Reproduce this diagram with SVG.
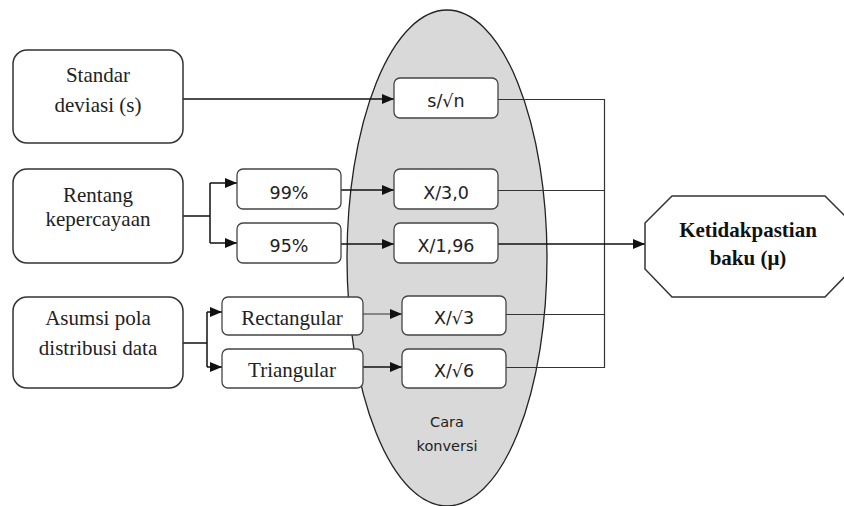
<svg xmlns="http://www.w3.org/2000/svg" width="844" height="506" viewBox="0 0 844 506">
<defs>
<marker id="ah" viewBox="0 0 12 10" refX="12" refY="5" markerWidth="12" markerHeight="10" markerUnits="userSpaceOnUse" orient="auto">
<path d="M0,0 L12,5 L0,10 z" fill="#111"/>
</marker>
</defs>
<style>
.big{fill:#fff;stroke:#333;stroke-width:1.5}
.sm{fill:#fff;stroke:#444;stroke-width:1.3}
.serif{font-family:"Liberation Serif","Times New Roman",serif;font-size:21px;fill:#222;text-anchor:middle}
.sans{font-family:"DejaVu Sans","Verdana",sans-serif;font-size:17.5px;fill:#222;text-anchor:middle}
.conn{fill:none;stroke:#111;stroke-width:1.5}
.thin{fill:none;stroke:#333;stroke-width:1.2}
</style>
<rect width="844" height="506" fill="#fff"/>
<g id="ellipse">
<ellipse cx="447" cy="258" rx="100" ry="248" fill="#d9d9d9" stroke="#222" stroke-width="1.3"/>
<text x="447" y="427" font-family="DejaVu Sans, sans-serif" font-size="14.5" fill="#222" text-anchor="middle">Cara</text>
<text x="447" y="451" font-family="DejaVu Sans, sans-serif" font-size="14.5" fill="#222" text-anchor="middle">konversi</text>
</g>
<g id="connectors">
<path class="conn" d="M183,99 H394" marker-end="url(#ah)"/>
<path class="conn" d="M183,216 H210 M210,183 V243" />
<path class="conn" d="M210,183 H237" marker-end="url(#ah)"/>
<path class="conn" d="M210,243 H237" marker-end="url(#ah)"/>
<path class="conn" d="M341,190 H394" marker-end="url(#ah)"/>
<path class="conn" d="M341,244 H394" marker-end="url(#ah)"/>
<path class="conn" d="M183,343 H207 M207,312 V367"/>
<path class="conn" d="M207,312 H222" marker-end="url(#ah)"/>
<path class="conn" d="M207,367 H222" marker-end="url(#ah)"/>
<path class="thin" d="M363,314 H402" marker-end="url(#ah)"/>
<path class="conn" d="M363,367 H402" marker-end="url(#ah)"/>
<path class="thin" d="M498,99.5 H604.5 M498,190.5 H604.5 M506,314.5 H604.5 M506,367.5 H604.5 M604.5,99 V368"/>
<path class="conn" d="M498,244 H645" marker-end="url(#ah)"/>
</g>
<g id="standar">
<rect class="big" x="13" y="50" width="170" height="93" rx="14"/>
<text class="serif" x="98" y="82">Standar</text>
<text class="serif" x="98" y="112">deviasi (s)</text>
</g>
<g id="rentang">
<rect class="big" x="13" y="169" width="170" height="94" rx="14"/>
<text class="serif" x="98" y="202">Rentang</text>
<text class="serif" x="98" y="226">kepercayaan</text>
</g>
<g id="asumsi">
<rect class="big" x="13" y="297" width="170" height="91" rx="14"/>
<text class="serif" x="98" y="325">Asumsi pola</text>
<text class="serif" x="98" y="355">distribusi data</text>
</g>
<g id="p99">
<rect class="sm" x="237" y="169" width="104" height="40" rx="6"/>
<text class="sans" x="289" y="199">99%</text>
</g>
<g id="p95">
<rect class="sm" x="237" y="223" width="104" height="40" rx="6"/>
<text class="sans" x="289" y="252">95%</text>
</g>
<g id="rect">
<rect class="sm" x="222" y="297" width="141" height="38" rx="6"/>
<text class="serif" x="292" y="325">Rectangular</text>
</g>
<g id="tri">
<rect class="sm" x="222" y="349" width="141" height="39" rx="6"/>
<text class="serif" x="292" y="377">Triangular</text>
</g>
<g id="f1">
<rect class="sm" x="394" y="78" width="104" height="40" rx="6"/>
<text class="sans" x="446" y="107">s/√n</text>
</g>
<g id="f2">
<rect class="sm" x="394" y="169" width="104" height="40" rx="6"/>
<text class="sans" x="446" y="199">X/3,0</text>
</g>
<g id="f3">
<rect class="sm" x="394" y="223" width="104" height="40" rx="6"/>
<text class="sans" x="446" y="252">X/1,96</text>
</g>
<g id="f4">
<rect class="sm" x="402" y="296" width="104" height="39" rx="6"/>
<text class="sans" x="454" y="324">X/√3</text>
</g>
<g id="f5">
<rect class="sm" x="402" y="349" width="104" height="39" rx="6"/>
<text class="sans" x="454" y="377">X/√6</text>
</g>
<g id="ketidakpastian">
<polygon points="672,196 825,196 852,223 852,269 825,297 672,297 645,269 645,223" fill="#fff" stroke="#333" stroke-width="1.5"/>
<text x="748" y="237" font-family="Liberation Serif, serif" font-size="21" font-weight="bold" fill="#111" text-anchor="middle">Ketidakpastian</text>
<text x="748" y="265" font-family="Liberation Serif, serif" font-size="21" font-weight="bold" fill="#111" text-anchor="middle">baku (μ)</text>
</g>
</svg>
